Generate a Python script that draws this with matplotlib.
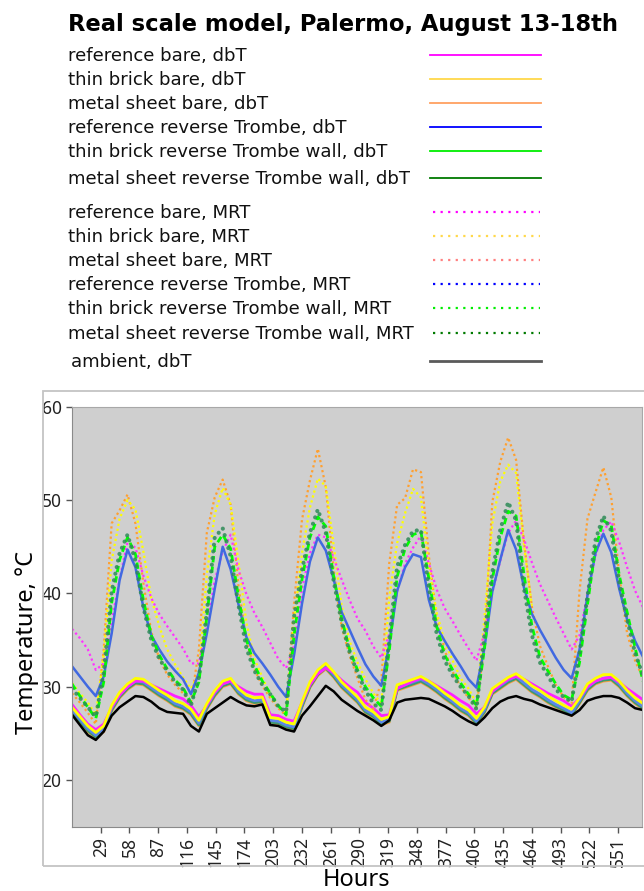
import numpy as np
import matplotlib
matplotlib.use("Agg")
import matplotlib.pyplot as plt
from matplotlib.lines import Line2D
from matplotlib.patches import Rectangle

plt.rcParams["font.family"] = ["Noto Sans", "DejaVu Sans"]

# sample times (every 8 steps)
hours = np.arange(0, 577, 8)

# dbT, lower cluster
dbt_ref_bare = [
    28.1, 27.0, 26.0, 25.4, 26.0, 27.8, 29.1, 30.0, 30.6, 30.6, 30.2, 29.8,
    29.4, 29.0, 28.7, 28.0, 26.8, 28.0, 29.4, 30.3, 30.6, 30.0, 29.5, 29.2,
    29.2, 27.0, 26.9, 26.5, 26.3, 28.3, 30.2, 31.4, 32.0, 31.5, 30.7, 30.0,
    29.4, 28.3, 27.7, 26.9, 27.0, 29.8, 30.2, 30.6, 30.9, 30.6, 30.1, 29.6,
    29.1, 28.5, 28.0, 27.1, 27.8, 29.5, 30.2, 30.8, 31.1, 30.8, 30.3, 29.8,
    29.3, 28.9, 28.5, 27.9, 28.8, 30.0, 30.6, 30.9, 31.0, 30.5, 29.8, 29.2,
    28.6]
dbt_brick_bare = [
    27.8, 26.8, 25.8, 25.1, 25.8, 28.0, 29.4, 30.3, 30.9, 30.8, 30.2, 29.6,
    29.1, 28.5, 28.2, 27.6, 26.4, 28.2, 29.6, 30.6, 30.9, 29.8, 29.1, 28.8,
    28.9, 26.7, 26.6, 26.2, 26.0, 28.4, 30.5, 31.8, 32.5, 31.6, 30.5, 29.7,
    28.9, 27.8, 27.3, 26.5, 26.8, 30.2, 30.5, 30.8, 31.1, 30.6, 30.0, 29.3,
    28.7, 28.0, 27.5, 26.6, 27.8, 29.8, 30.4, 31.0, 31.4, 30.8, 30.1, 29.6,
    29.0, 28.5, 28.0, 27.6, 28.8, 30.3, 30.9, 31.3, 31.3, 30.6, 29.6, 28.8,
    28.2]
dbt_metal_bare = [
    27.2, 26.2, 25.2, 24.5, 25.2, 27.4, 28.8, 29.7, 30.3, 30.2, 29.6, 29.0,
    28.5, 27.9, 27.6, 27.0, 25.8, 27.6, 29.0, 30.0, 30.3, 29.2, 28.5, 28.2,
    28.3, 26.1, 26.0, 25.6, 25.4, 27.8, 29.9, 31.2, 31.9, 31.0, 29.9, 29.1,
    28.3, 27.2, 26.7, 25.9, 26.2, 29.6, 29.9, 30.2, 30.5, 30.0, 29.4, 28.7,
    28.1, 27.4, 26.9, 26.0, 27.2, 29.2, 29.8, 30.4, 30.8, 30.1, 29.4, 28.9,
    28.3, 27.8, 27.4, 26.9, 28.2, 29.6, 30.3, 30.6, 30.7, 30.0, 29.0, 28.2,
    27.6]
dbt_ref_rt = [
    27.5, 26.5, 25.5, 24.8, 25.5, 27.7, 29.1, 30.0, 30.6, 30.5, 29.9, 29.3,
    28.8, 28.2, 27.9, 27.3, 26.1, 27.9, 29.3, 30.3, 30.6, 29.5, 28.8, 28.5,
    28.6, 26.4, 26.3, 25.9, 25.7, 28.1, 30.2, 31.5, 32.2, 31.3, 30.2, 29.4,
    28.6, 27.5, 27.0, 26.2, 26.5, 29.9, 30.2, 30.5, 30.8, 30.3, 29.7, 29.0,
    28.4, 27.7, 27.2, 26.3, 27.5, 29.5, 30.1, 30.7, 31.1, 30.4, 29.7, 29.2,
    28.6, 28.1, 27.7, 27.2, 28.5, 29.9, 30.6, 30.9, 31.0, 30.3, 29.3, 28.5,
    27.9]
dbt_brick_rt = [
    27.4, 26.4, 25.4, 24.7, 25.4, 27.6, 29.0, 29.9, 30.5, 30.4, 29.8, 29.2,
    28.7, 28.1, 27.8, 27.2, 26.0, 27.8, 29.2, 30.2, 30.5, 29.4, 28.7, 28.4,
    28.5, 26.3, 26.2, 25.8, 25.6, 28.0, 30.1, 31.4, 32.1, 31.2, 30.1, 29.3,
    28.5, 27.4, 26.9, 26.1, 26.4, 29.8, 30.1, 30.4, 30.7, 30.2, 29.6, 28.9,
    28.3, 27.6, 27.1, 26.2, 27.4, 29.4, 30.0, 30.6, 31.0, 30.3, 29.6, 29.1,
    28.5, 28.0, 27.6, 27.1, 28.4, 29.8, 30.5, 30.8, 30.9, 30.2, 29.2, 28.4,
    27.8]
dbt_metal_rt = [
    27.3, 26.3, 25.3, 24.6, 25.3, 27.5, 28.9, 29.8, 30.4, 30.3, 29.7, 29.1,
    28.6, 28.0, 27.7, 27.1, 25.9, 27.7, 29.1, 30.1, 30.4, 29.3, 28.6, 28.3,
    28.4, 26.2, 26.1, 25.7, 25.5, 27.9, 30.0, 31.3, 32.0, 31.1, 30.0, 29.2,
    28.4, 27.3, 26.8, 26.0, 26.3, 29.7, 30.0, 30.3, 30.6, 30.1, 29.5, 28.8,
    28.2, 27.5, 27.0, 26.1, 27.3, 29.3, 29.9, 30.5, 30.9, 30.2, 29.5, 29.0,
    28.4, 27.9, 27.5, 27.0, 28.3, 29.7, 30.4, 30.7, 30.8, 30.1, 29.1, 28.3,
    27.7]

# MRT, large daily swing
mrt_ref_bare = [
    36.2, 35.2, 34.0, 31.8, 32.5, 37.0, 41.5, 45.5, 44.9, 41.9, 39.5, 37.8,
    36.5, 35.3, 34.1, 32.5, 32.5, 36.5, 41.4, 44.5, 46.3, 42.5, 39.9, 37.9,
    36.4, 34.7, 33.0, 32.0, 34.4, 40.5, 44.3, 46.3, 46.0, 43.8, 41.5, 39.3,
    37.3, 36.0, 34.3, 33.1, 35.6, 40.2, 43.2, 44.9, 46.2, 43.2, 40.4, 38.4,
    37.0, 35.5, 34.1, 32.8, 35.7, 40.1, 43.5, 46.5, 47.8, 45.8, 43.3, 41.0,
    39.2, 37.4, 35.7, 34.0, 35.5, 40.0, 44.0, 46.8, 47.7, 45.5, 42.8, 40.3,
    38.5]
mrt_brick_bare = [
    30.4, 29.3, 28.3, 27.0, 33.5, 43.5, 48.0, 50.0, 49.0, 44.5, 39.5, 36.5,
    34.0, 32.4, 31.0, 29.8, 31.5, 42.0, 48.5, 51.3, 49.5, 43.3, 36.8, 33.0,
    31.0, 29.1, 27.9, 27.2, 37.0, 44.3, 49.2, 52.3, 51.5, 45.1, 38.7, 34.9,
    32.6, 30.8, 29.3, 28.2, 39.5, 45.4, 48.6, 51.2, 50.3, 42.7, 37.9, 34.8,
    32.8, 30.9, 29.8, 28.2, 37.3, 47.5, 52.0, 53.8, 52.9, 45.1, 38.6, np.nan,
    np.nan, np.nan, np.nan, np.nan, np.nan, np.nan, np.nan, np.nan, np.nan, np.nan, np.nan, np.nan,
    np.nan]
mrt_metal_bare = [
    29.3, 28.3, 27.2, 26.0, 34.0, 47.5, 48.9, 50.6, 47.5, 41.1, 35.9, 33.0,
    31.3, 30.2, 29.3, 28.3, 34.0, 46.5, 50.3, 52.2, 49.5, 40.7, 34.9, 31.9,
    30.1, 28.8, 27.7, 26.9, 38.9, 47.9, 52.1, 55.5, 51.4, 42.5, 36.4, 33.4,
    30.9, 28.6, 27.6, 30.6, 43.2, 49.5, 50.2, 53.3, 53.0, 44.0, 37.3, 33.9,
    31.6, 30.0, 28.8, 27.8, 34.5, 49.8, 54.1, 56.7, 54.3, 45.5, 38.5, 34.4,
    32.2, 30.2, 28.9, 28.2, 40.3, 48.0, 50.8, 53.5, 50.3, 42.0, 35.7, 32.8,
    30.9]
mrt_ref_rt = [
    32.2, 31.1, 30.0, 29.0, 31.1, 35.7, 41.4, 44.7, 42.8, 38.5, 35.5, 34.0,
    32.7, 31.7, 30.8, 29.2, 31.5, 35.7, 40.5, 45.0, 42.6, 38.8, 35.3, 33.6,
    32.5, 31.3, 30.0, 28.9, 33.4, 38.9, 43.4, 46.0, 44.6, 41.5, 38.0, 36.1,
    34.2, 32.4, 31.1, 30.1, 34.5, 40.3, 42.8, 44.2, 43.9, 39.3, 36.4, 34.9,
    33.5, 32.2, 30.8, 29.9, 34.1, 40.2, 43.6, 46.8, 44.7, 40.6, 37.8, 36.1,
    34.6, 33.1, 31.8, 30.9, 34.0, 39.8, 44.3, 46.4, 44.4, 40.5, 37.2, 34.9,
    33.2]
mrt_brick_rt = [
    30.3, 29.0, 27.8, 26.6, 30.5, 39.0, 43.6, 46.0, 44.2, 39.3, 35.5, 33.4,
    31.9, 30.7, 29.9, 28.3, 30.5, 37.5, 45.0, 46.3, 44.8, 39.6, 35.0, 32.3,
    30.6, 29.3, 28.0, 27.0, 35.5, 41.5, 46.0, 48.2, 47.2, 41.8, 37.3, 34.0,
    31.8, 30.0, 28.8, 27.9, 33.8, 41.8, 44.8, 46.3, 46.6, 41.6, 36.4, 33.4,
    31.8, 30.4, 29.2, 28.0, 34.0, 41.5, 46.0, 48.8, 48.3, 42.0, 36.5, 33.2,
    31.7, 30.3, 29.1, 28.6, 32.6, 38.8, 44.8, 47.8, 47.3, 42.0, 38.0, 34.2,
    30.6]
mrt_metal_rt = [
    29.8, 28.8, 27.8, 26.8, 31.5, 40.2, 44.3, 46.3, 43.5, 38.5, 35.0, 33.0,
    31.7, 30.5, 29.7, 28.0, 31.0, 38.0, 46.0, 47.0, 44.0, 38.7, 34.1, 31.7,
    30.2, 29.2, 27.9, 27.3, 37.5, 42.5, 46.5, 49.0, 46.5, 41.3, 36.9, 33.7,
    31.5, 29.6, 28.2, 27.5, 35.0, 42.9, 45.2, 46.7, 46.8, 40.6, 35.6, 32.8,
    31.2, 30.0, 29.0, 27.6, 35.5, 42.3, 46.8, 49.8, 47.8, 40.5, 35.5, 32.6,
    31.2, 29.7, 28.9, 28.4, 33.6, 39.7, 45.7, 48.3, 46.7, 41.2, 37.2, 33.6,
    31.2]

ambient_dbt = [
    27.0, 25.9, 24.8, 24.3, 25.2, 26.9, 27.8, 28.4, 29.0, 28.9, 28.4, 27.7,
    27.3, 27.2, 27.1, 25.8, 25.2, 27.1, 27.7, 28.3, 28.9, 28.4, 28.0, 27.9,
    28.1, 25.9, 25.8, 25.4, 25.2, 26.9, 27.9, 29.0, 30.1, 29.5, 28.6, 28.0,
    27.4, 26.9, 26.4, 25.8, 26.4, 28.3, 28.6, 28.7, 28.8, 28.7, 28.3, 27.9,
    27.4, 26.8, 26.3, 25.9, 26.7, 27.7, 28.4, 28.8, 29.0, 28.7, 28.5, 28.1,
    27.8, 27.5, 27.2, 26.9, 27.5, 28.5, 28.8, 29.0, 29.0, 28.8, 28.3, 27.7,
    27.5]

legend_labels = [
    "reference bare, dbT", "thin brick bare, dbT", "metal sheet bare, dbT",
    "reference reverse Trombe, dbT", "thin brick reverse Trombe wall, dbT",
    "metal sheet reverse Trombe wall, dbT",
    "reference bare, MRT", "thin brick bare, MRT", "metal sheet bare, MRT",
    "reference reverse Trombe, MRT", "thin brick reverse Trombe wall, MRT",
    "metal sheet reverse Trombe wall, MRT",
    "ambient, dbT",
]
xtick_vals = list(range(29, 576, 29))
ytick_vals = [20, 30, 40, 50, 60]

W, H = 644, 891
fig = plt.figure(figsize=(W / 100, H / 100), dpi=100)


def fx(px):
    return px / W


def fy(py):
    return 1 - py / H


# title + hand-made legend block on top
fig.text(fx(343), fy(24), "Real scale model, Palermo, August 13-18th",
         ha="center", va="center", fontsize=16.3, fontweight="bold",
         family="DejaVu Sans")

leg_colors = ["#ff00ff", "#ffd84a", "#ffa060", "#0000ff", "#00ee00", "#007a00",
              "#ff00ff", "#ffd84a", "#ff8080", "#0000ff", "#00ee00", "#007a00",
              "#5a5a5a"]
leg_rows = [55, 79, 103, 127, 151, 178, 212, 236, 260, 284, 308, 333, 361]
for i, lab in enumerate(legend_labels):
    y = leg_rows[i]
    tx = 71 if i == 12 else 68
    fig.text(fx(tx), fy(y + 1), lab, ha="left", va="center", fontsize=13.1,
             family="DejaVu Sans", color="#111111")
    if i < 6:
        ln = Line2D([fx(430), fx(541)], [fy(y), fy(y)], color=leg_colors[i], lw=1.3,
                    transform=fig.transFigure)
    elif i < 12:
        ln = Line2D([fx(433), fx(540)], [fy(y), fy(y)], color=leg_colors[i], lw=1.6,
                    linestyle=(0, (1, 2.4)), transform=fig.transFigure)
    else:
        ln = Line2D([fx(430), fx(541)], [fy(y), fy(y)], color=leg_colors[i], lw=2.0,
                    transform=fig.transFigure)
    fig.add_artist(ln)

# light frame around the chart panel
fig.add_artist(Rectangle((fx(43), fy(866)), fx(640), (866 - 391) / H, fill=False,
                         edgecolor="#c4c4c4", lw=1.3, transform=fig.transFigure))

ax = fig.add_axes([fx(72), fy(826.7), (642 - 72) / W, (826.7 - 406.8) / H])
ax.set_facecolor("#cfcfcf")

lower = [
    (dbt_metal_bare, "#ffa040"),
    (dbt_brick_rt, "#33dd33"),
    (dbt_metal_rt, "#3f9a6e"),
    (dbt_ref_rt, "#5b86e8"),
    (dbt_ref_bare, "#ff22ff"),
    (dbt_brick_bare, "#ffff00"),
]
for vals, c in lower:
    ax.plot(hours, vals, color=c, lw=2.0)
ax.plot(hours, ambient_dbt, color="black", lw=1.8)

ax.plot(hours, mrt_metal_bare, color="#ffa030", lw=1.6, linestyle=(0, (1, 1.3)))
ax.plot(hours, mrt_brick_bare, color="#ffff00", lw=1.6, linestyle=(0, (1, 1.3)))
ax.plot(hours, mrt_ref_bare, color="#ff33ff", lw=1.6, linestyle=(0, (1, 1.3)))
ax.plot(hours, mrt_ref_rt, color="#4169e1", lw=1.8)
ax.plot(hours, mrt_brick_rt, color="#00ff00", lw=2.0, linestyle=(0, (2.3, 1.5)))
ax.plot(hours, mrt_metal_rt, color="#2e8b57", alpha=0.85, lw=3.0,
        linestyle=(0, (0.01, 1.6)), dash_capstyle="round")

ax.set_xlim(0, 575)
ax.set_ylim(15, 60)
ax.set_xticks(xtick_vals)
ax.set_xticklabels([str(v) for v in xtick_vals], rotation="vertical",
                   ha="center", va="top")
ax.set_yticks(ytick_vals)
for s in ax.spines.values():
    s.set_color("#a8a8a8")
ax.spines["left"].set_color("#8a8a8a")
ax.spines["bottom"].set_color("#8a8a8a")
ax.tick_params(colors="#555555", labelcolor="#222222", length=4, width=1,
               labelsize=12.5)

ax.set_ylabel("Temperature, °C", fontsize=17, va="center")
ax.yaxis.set_label_coords(-0.079, 0.44)
ax.set_xlabel("Hours", fontsize=17, va="center")
ax.xaxis.set_label_coords(0.5, -0.128)

fig.savefig("out.png", dpi=100)
